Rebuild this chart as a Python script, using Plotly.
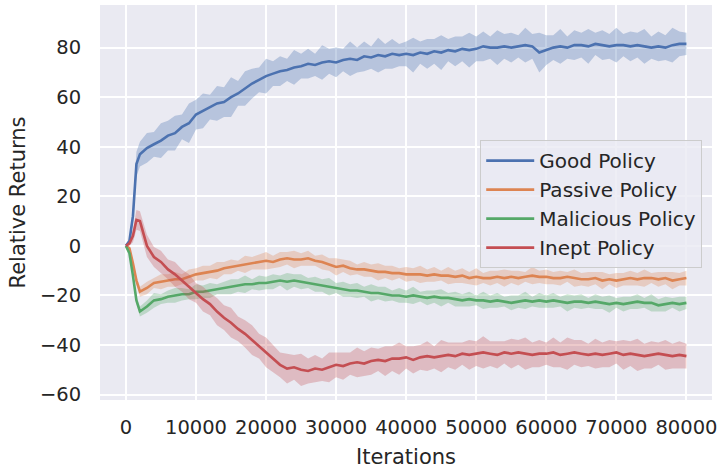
import plotly.graph_objects as go

iterations = [0, 500, 1000, 1500] + list(range(2000, 80001, 1000))

series_names = ["Good Policy", "Passive Policy", "Malicious Policy", "Inept Policy"]
series_colors = ["#4c72b0", "#dd8452", "#55a868", "#c44e52"]
band_colors = ["rgba(76,114,176,0.32)", "rgba(221,132,82,0.3)",
               "rgba(85,168,104,0.3)", "rgba(196,78,82,0.3)"]

good_mean = [0, 2, 12, 33,
             37, 39.5, 41, 42.5, 44.5, 45.5, 48, 49.5, 53, 54.5,
             56, 57.5, 58, 60, 61.5, 63.5, 65.5, 67, 68.5, 69.5,
             70.5, 71, 72, 72.5, 73.5, 73, 74, 74.5, 74, 75,
             75.5, 75, 76.5, 76, 77, 76.5, 77.5, 77, 77.5, 77,
             78, 77.5, 78.5, 78, 79, 78.5, 79.5, 79, 79.5, 80.5,
             80, 80, 80.5, 80, 80.5, 81, 80.5, 78, 79, 80,
             80.5, 80, 81, 81, 80.5, 81.5, 81, 80.5, 81, 81,
             80.5, 81, 80.5, 80, 80.5, 80, 81, 81.5, 81.5]
good_spread = [0, 1, 3, 5,
               5, 6, 5, 7, 6, 7, 5, 8, 6, 7,
               5, 7, 6, 8, 5, 7, 6, 5, 7, 5,
               6, 4.5, 7, 5, 6, 4.5, 7, 5, 6, 4.5,
               7, 5, 6, 4.5, 7, 5, 6, 4.5, 5, 7,
               4.5, 6, 5, 7, 4.5, 6, 5, 7, 5, 6,
               4.5, 7, 5, 6, 4.5, 7, 5, 8, 6, 5,
               7, 4.5, 6, 5, 7, 4.5, 6, 5, 7, 4.5,
               6, 5, 7, 4.5, 6, 5, 7, 5, 4.5]

passive_mean = [0, -1, -7, -14,
                -18.5, -17, -15, -14.5, -14, -13.5, -13.5, -12.5, -11.5, -11,
                -10.5, -10, -9, -8.5, -8, -7.5, -7, -6.5, -6, -6.5,
                -5.5, -5, -5.5, -5.5, -5, -6, -6.5, -7.5, -8.5, -8,
                -9, -9.5, -9.5, -10, -10.5, -10.5, -11, -11, -11.5, -11.5,
                -11.5, -12, -11.5, -12, -12, -12.5, -12, -13, -12.5, -13,
                -13, -12.5, -13, -12.5, -13, -12.5, -12, -12.5, -12.5, -13,
                -13, -12.5, -13, -13.5, -13.5, -13, -14, -13.5, -14, -13.5,
                -13, -13.5, -13, -13, -13.5, -13, -14, -13.5, -13]
passive_spread = [0, 0.5, 1, 1.5,
                  2, 2.5, 2, 3, 2.5, 3, 2, 3, 2.5, 3,
                  2.5, 3.5, 2.5, 3, 2, 3.5, 2.5, 3, 3.5, 2.5,
                  3, 2.5, 3.5, 2.5, 3, 2, 3, 2.5, 3.5, 2.5,
                  3, 2, 3, 2.5, 3.5, 2.5, 3, 2, 3, 2.5,
                  3.5, 2.5, 3, 2, 3.5, 2.5, 3, 2.5, 3.5, 2,
                  3, 2.5, 3.5, 2.5, 3, 2, 3.5, 2.5, 3, 2.5,
                  3, 2, 3.5, 2.5, 3, 2.5, 3.5, 2, 3, 2.5,
                  3, 2.5, 3.5, 2, 3, 2.5, 3.5, 2.5, 3]

malicious_mean = [0, -3, -12, -22,
                  -26.5, -24.5, -22, -21.5, -20.5, -20, -19.5, -19.5, -18.5, -18.5,
                  -18, -17.5, -17, -16.5, -16, -15.5, -15.5, -15, -15, -14.5,
                  -14, -14.5, -14, -14.5, -15, -15.5, -16, -16.5, -17, -17.5,
                  -18, -18, -18.5, -19, -19, -19.5, -20, -20, -20.5, -20,
                  -20.5, -21, -20.5, -21, -21, -21.5, -22, -21.5, -22, -22,
                  -22.5, -22, -22.5, -23, -22.5, -22, -22.5, -22, -22.5, -22,
                  -22.5, -23, -22.5, -22.5, -23, -22.5, -23, -23.5, -23, -23.5,
                  -23, -22.5, -23, -23, -24, -23.5, -23, -23.5, -23]
malicious_spread = [0, 0.5, 1, 1.5,
                    2, 2.5, 3, 2, 2.5, 3, 2.5, 2, 3, 2.5,
                    3, 2, 2.5, 3, 2.5, 3.5, 2, 3, 2.5, 3,
                    2, 3.5, 2.5, 3, 2, 3, 2.5, 3.5, 2, 3,
                    2.5, 3, 2, 3.5, 2.5, 3, 2, 3, 2.5, 3.5,
                    2, 3, 2.5, 3.5, 2, 3, 2.5, 3, 2, 3.5,
                    2.5, 3, 2, 3, 2.5, 3.5, 2, 3, 2.5, 3,
                    2, 3.5, 2.5, 3, 2, 3, 2.5, 3.5, 2, 3,
                    2.5, 3, 2, 3.5, 2.5, 3, 2, 3, 2.5]

inept_mean = [0, 1, 4, 10.5,
              10, 0, -4.5, -6.5, -9.5, -11.5, -14, -16.5, -19, -21.5,
              -23.5, -26.5, -29, -31, -33.5, -35.5, -38, -40.5, -43, -45.5,
              -48, -49.5, -49, -50, -50.5, -49.5, -50, -49, -48, -48.5,
              -47.5, -47, -47.5, -46.5, -46, -46.5, -45.5, -45.5, -45, -46,
              -45, -44.5, -45, -44.5, -44, -44.5, -43.5, -44, -43.5, -43,
              -43.5, -44, -43, -43.5, -43, -43.5, -44, -43.5, -43.5, -43,
              -44, -43.5, -43, -43.5, -44, -43.5, -44, -43.5, -43, -44,
              -43.5, -44, -44.5, -44, -43.5, -44, -44.5, -44, -44.5]
inept_spread = [0, 1, 2.5, 4,
                4, 4.5, 4, 4.5, 4, 5, 4.5, 5, 4, 5,
                4.5, 5.5, 5, 6, 5, 5.5, 6, 5, 6, 5.5,
                5, 6, 5, 6.5, 5, 5.5, 4.5, 6, 5, 5.5,
                4.5, 6, 5, 5.5, 4.5, 6, 5, 6.5, 4.5, 5.5,
                5, 6, 4.5, 6.5, 5, 5.5, 4.5, 6, 5, 6.5,
                5, 5.5, 4.5, 6, 5, 6.5, 5, 5.5, 4.5, 6,
                5, 6.5, 5, 5.5, 4.5, 6, 5, 5.5, 4.5, 6,
                5, 6.5, 5, 5.5, 4.5, 6, 5, 5.5, 5]

y_ticks = [-60, -40, -20, 0, 20, 40, 60, 80]
x_ticks = [0, 10000, 20000, 30000, 40000, 50000, 60000, 70000, 80000]

means = [good_mean, passive_mean, malicious_mean, inept_mean]
spreads = [good_spread, passive_spread, malicious_spread, inept_spread]

fig = go.Figure()
for name, col, bcol, m, s in zip(series_names, series_colors, band_colors, means, spreads):
    lo = [a - b for a, b in zip(m, s)]
    hi = [a + b for a, b in zip(m, s)]
    fig.add_trace(go.Scatter(x=iterations, y=lo, mode="lines", line=dict(width=0),
                             showlegend=False, hoverinfo="skip"))
    fig.add_trace(go.Scatter(x=iterations, y=hi, mode="lines", line=dict(width=0),
                             fill="tonexty", fillcolor=bcol, showlegend=False,
                             hoverinfo="skip"))
    fig.add_trace(go.Scatter(x=iterations, y=m, mode="lines", name=name,
                             line=dict(color=col, width=2.6)))

font_family = "DejaVu Sans"
text_color = "#262626"

fig.update_layout(
    width=722, height=469,
    margin=dict(l=100, r=7, t=5, b=64),
    paper_bgcolor="white",
    plot_bgcolor="#eaeaf2",
    font=dict(family=font_family, color=text_color, size=19),
    legend=dict(
        x=0.984, y=0.658, xanchor="right", yanchor="top", traceorder="normal",
        itemwidth=48,
        bgcolor="rgba(234,234,242,0.8)", bordercolor="#cccccc", borderwidth=1,
        font=dict(size=20, family=font_family, color=text_color),
    ),
    xaxis=dict(
        range=[-3700, 83650], tickvals=x_ticks, ticktext=[str(v) for v in x_ticks],
        showgrid=True, gridcolor="white", gridwidth=1.5, zeroline=False,
        showline=False, ticks="outside", ticklen=10, tickcolor="rgba(0,0,0,0)",
        tickfont=dict(size=19.5),
        title=dict(text="Iterations", font=dict(size=21), standoff=10),
    ),
    yaxis=dict(
        range=[-62.2, 97.2], tickvals=y_ticks,
        ticktext=[("\u2212" + str(-v)) if v < 0 else str(v) for v in y_ticks],
        showgrid=True, gridcolor="white", gridwidth=1.5, zeroline=False,
        showline=False, ticks="outside", ticklen=14, tickcolor="rgba(0,0,0,0)",
        tickfont=dict(size=19.5),
        title=dict(text="Relative Returns", font=dict(size=21), standoff=8),
    ),
)

fig.write_html("out.html")
